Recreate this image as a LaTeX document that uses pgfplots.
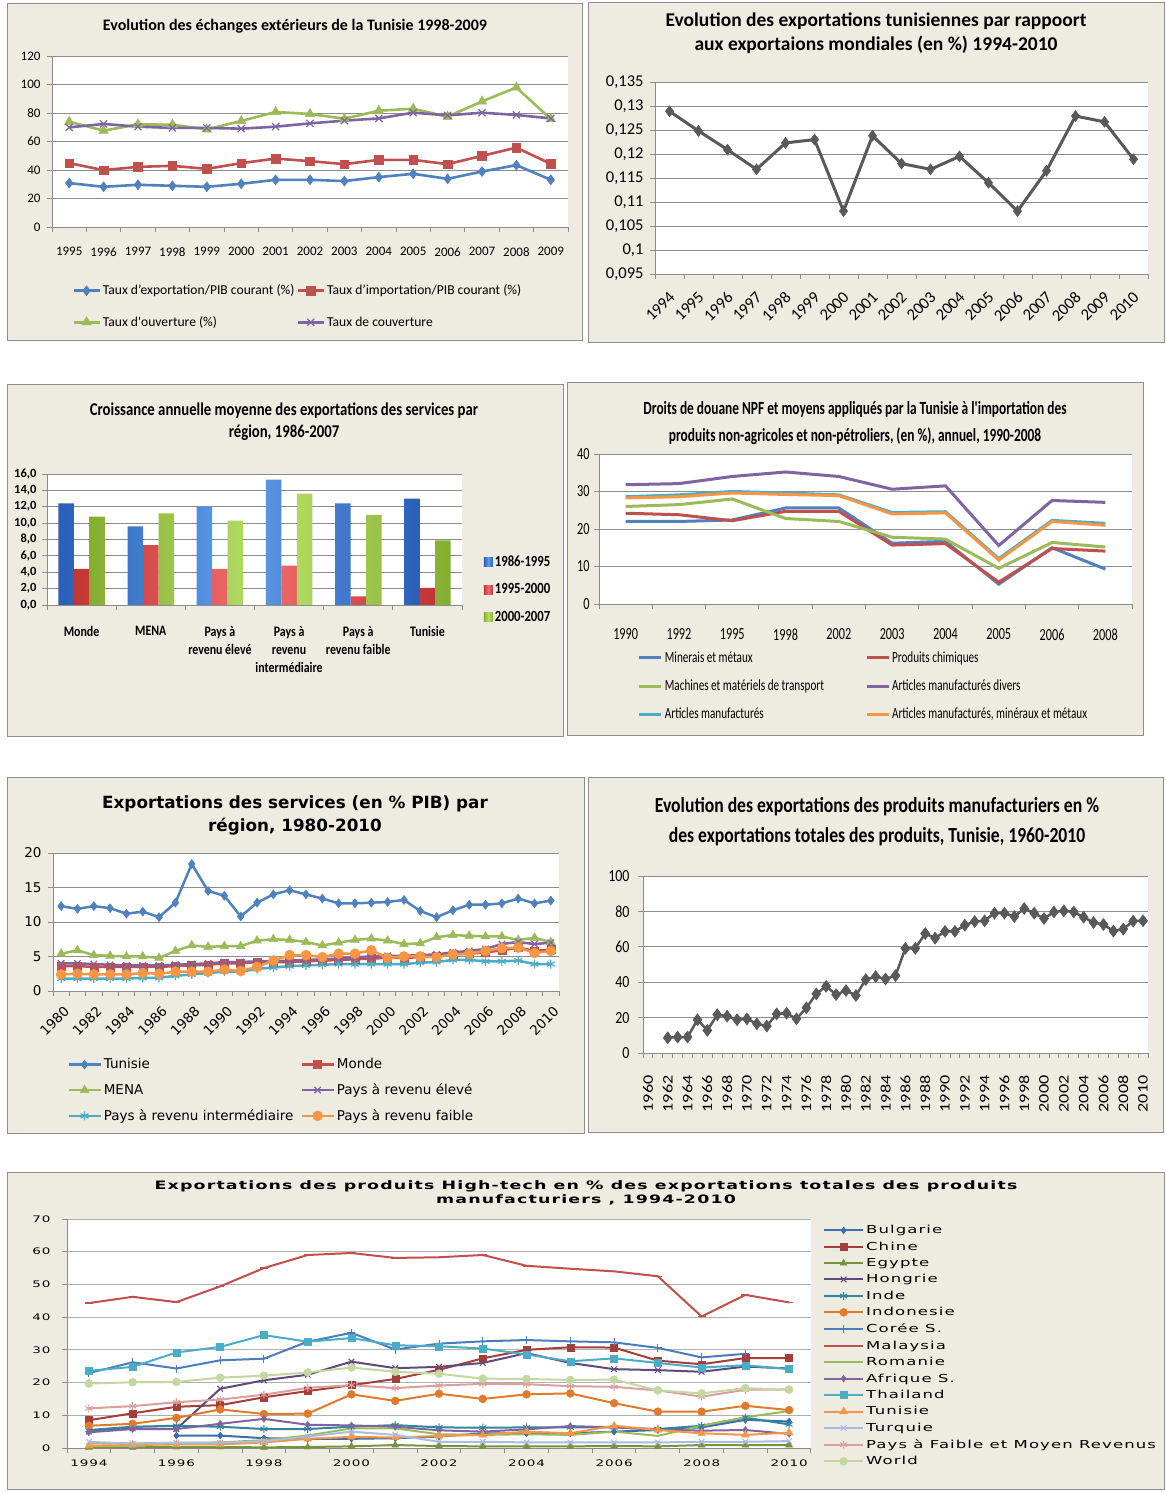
\documentclass[border=0pt]{standalone}
\usepackage{pgfplots}
\pgfplotsset{compat=1.18}
\usepackage{pgfplotstable}
\usepackage{fontspec}
\setmainfont{Carlito}
\newfontfamily\fA{Carlito}
\newfontfamily\fB[FakeStretch=0.72]{Carlito}
\newfontfamily\fC[FakeStretch=0.82]{Carlito}
\newfontfamily\fV[FakeStretch=1.25]{Carlito}
\newfontfamily\fD{DejaVu Sans}
\newfontfamily\fW[FakeStretch=1.5,LetterSpace=10]{DejaVu Sans}

\definecolor{beige}{HTML}{EEECE1}
\definecolor{bord}{HTML}{8E8E8E}
\definecolor{gridc}{HTML}{8C8C8C}
\definecolor{oblue}{HTML}{4F81BD}
\definecolor{ored}{HTML}{C0504D}
\definecolor{ogreen}{HTML}{9BBB59}
\definecolor{opurple}{HTML}{8064A2}
\definecolor{ocyan}{HTML}{4BACC6}
\definecolor{oorange}{HTML}{F79646}
\definecolor{dgray}{HTML}{595959}
\definecolor{c7bul}{HTML}{3D6DAA}
\definecolor{c7chi}{HTML}{A33E3B}
\definecolor{c7egy}{HTML}{77933C}
\definecolor{c7hon}{HTML}{604A7B}
\definecolor{c7ind}{HTML}{31859C}
\definecolor{c7idn}{HTML}{E07B2E}
\definecolor{c7cor}{HTML}{4A7EBB}
\definecolor{c7mal}{HTML}{C0504D}
\definecolor{c7rom}{HTML}{9BBB59}
\definecolor{c7afr}{HTML}{8064A2}
\definecolor{c7tha}{HTML}{4BACC6}
\definecolor{c7tun}{HTML}{F79646}
\definecolor{c7tur}{HTML}{A9BCE2}
\definecolor{c7pfm}{HTML}{D9A09E}
\definecolor{c7wor}{HTML}{C4D7A0}
\definecolor{bb1}{HTML}{2A5FB8}\definecolor{bb2}{HTML}{5E9CEB}
\definecolor{br1}{HTML}{C23535}\definecolor{br2}{HTML}{F26D6D}
\definecolor{bg1}{HTML}{84AE2F}\definecolor{bg2}{HTML}{B8E06A}

\pgfplotstableread{
x exp imp ouv cov
0 30.8 44.8 73.9 69.9
1 28.2 39.9 67.6 72.3
2 29.6 42.2 72.0 70.4
3 28.9 42.9 71.8 69.5
4 28.2 40.8 68.5 69.5
5 30.3 44.8 74.4 69.0
6 33.1 48.0 80.7 70.4
7 33.1 46.2 79.3 72.7
8 32.2 44.1 76.0 74.6
9 35.0 47.1 81.6 76.2
10 37.3 47.1 83.0 80.2
11 33.8 44.1 77.4 78.3
12 38.9 49.9 88.1 80.2
13 43.4 55.7 97.9 78.6
14 33.1 44.3 75.8 76.2
}\tA

\pgfplotstableread{
x v
0 0.1289
1 0.1248
2 0.1209
3 0.1168
4 0.1223
5 0.1230
6 0.1081
7 0.1238
8 0.1180
9 0.1168
10 0.1195
11 0.1140
12 0.1081
13 0.1165
14 0.1279
15 0.1267
16 0.1189
}\tB

\pgfplotstableread{
x a b c
0 12.4 4.4 10.8
1 9.6 7.3 11.2
2 12.0 4.4 10.3
3 15.3 4.8 13.6
4 12.4 1.06 11.0
5 13.0 2.1 7.9
}\tC

\pgfplotstableread{
x mm pc mt amd am amm
0 22.0 24.2 26.0 31.8 28.6 28.3
1 22.0 23.8 26.5 32.1 29.1 28.6
2 22.4 22.2 28.0 34.0 30.0 29.6
3 25.6 24.7 22.8 35.2 29.6 29.2
4 25.6 24.7 22.0 34.0 29.1 28.9
5 16.2 15.7 17.8 30.6 24.4 24.0
6 16.7 16.1 17.3 31.5 24.6 24.3
7 5.3 5.8 9.5 15.6 12.1 11.7
8 15.0 14.8 16.4 27.6 22.3 22.0
9 9.3 14.1 15.2 27.1 21.5 21.0
}\tD

\pgfplotstableread{
x tun mon mena elev inter faib
1980 12.3 3.6 5.4 4.0 1.8 2.4
1981 11.9 3.6 5.9 4.0 1.8 2.5
1982 12.3 3.5 5.2 3.9 1.8 2.4
1983 12.0 3.5 5.1 3.8 1.8 2.4
1984 11.2 3.5 5.0 3.7 1.8 2.4
1985 11.5 3.5 5.0 3.7 1.9 2.6
1986 10.7 3.5 4.8 3.7 1.9 2.5
1987 12.8 3.6 5.8 3.8 2.2 2.8
1988 18.4 3.7 6.6 3.9 2.4 2.8
1989 14.5 3.8 6.4 4.0 2.6 2.8
1990 13.8 4.0 6.5 4.2 2.8 3.1
1991 10.8 4.0 6.5 4.2 2.8 2.9
1992 12.8 4.2 7.3 4.3 3.2 3.5
1993 14.0 4.2 7.5 4.3 3.4 4.4
1994 14.6 4.2 7.4 4.4 3.6 5.2
1995 14.0 4.3 7.1 4.5 3.7 5.2
1996 13.4 4.4 6.6 4.6 3.8 4.9
1997 12.7 4.5 7.0 4.7 3.9 5.4
1998 12.7 4.6 7.4 4.9 3.9 5.4
1999 12.8 4.7 7.6 5.0 3.9 5.9
2000 12.9 4.8 7.3 5.1 3.9 4.8
2001 13.2 4.8 6.8 5.1 3.9 5.0
2002 11.6 4.9 6.9 5.2 4.1 5.0
2003 10.7 5.0 7.8 5.3 4.2 4.9
2004 11.7 5.3 8.1 5.6 4.5 5.3
2005 12.5 5.4 8.0 5.8 4.5 5.4
2006 12.5 5.6 7.9 6.1 4.3 5.8
2007 12.7 5.9 7.9 6.8 4.3 6.2
2008 13.4 6.3 7.4 7.1 4.4 6.3
2009 12.7 5.8 7.7 6.8 3.9 5.5
2010 13.1 6.0 7.1 7.0 3.9 5.8
}\tE

\pgfplotstableread{
x v
1962 8.6
1963 9.0
1964 9.0
1965 18.8
1966 12.8
1967 21.6
1968 20.8
1969 18.8
1970 19.3
1971 16.5
1972 15.2
1973 22.1
1974 22.5
1975 19.3
1976 25.5
1977 33.4
1978 37.7
1979 33.0
1980 35.3
1981 32.5
1982 41.5
1983 43.2
1984 41.8
1985 43.7
1986 59.1
1987 59.1
1988 67.5
1989 64.9
1990 68.7
1991 68.7
1992 72.2
1993 74.3
1994 74.7
1995 79.0
1996 79.0
1997 77.1
1998 81.6
1999 79.0
2000 76.0
2001 79.7
2002 80.3
2003 79.7
2004 76.7
2005 73.7
2006 72.6
2007 68.9
2008 70.0
2009 74.5
2010 74.7
}\tF

\pgfplotstableread{
x bul chi egy hon ind idn cor mal rom afr tha tun tur pfm wor
1994 nan 8.5 0.2 5.0 5.5 6.8 22.9 44.3 1.4 4.8 23.6 0.7 1.9 12.1 19.7
1995 nan 10.6 0.2 6.0 6.5 7.4 26.2 46.2 1.4 5.8 24.8 0.9 1.3 12.8 20.1
1996 3.8 12.6 0.3 5.8 6.8 9.2 24.3 44.6 1.6 5.8 29.2 1.1 1.6 14.0 20.2
1997 3.8 13.1 0.3 18.1 6.5 11.8 26.8 49.4 1.7 7.4 30.9 1.1 1.6 14.8 21.5
1998 3.0 15.5 0.2 20.7 5.8 10.4 27.3 55.0 2.4 8.9 34.5 1.7 2.1 16.3 22.1
1999 2.8 17.4 0.3 22.4 5.8 10.5 32.5 59.0 3.8 7.1 32.5 2.8 3.5 18.4 23.1
2000 2.8 19.2 0.5 26.4 6.5 16.4 35.2 59.6 6.0 6.9 33.6 3.4 5.0 19.2 24.6
2001 3.0 21.1 0.9 24.4 7.0 14.4 30.1 58.1 6.0 6.5 31.4 3.2 4.0 18.3 23.3
2002 3.5 23.9 0.6 24.8 6.3 16.6 31.9 58.3 4.2 5.4 31.1 3.7 1.9 19.1 22.7
2003 4.5 27.4 0.5 26.0 6.2 15.0 32.6 59.0 4.0 5.0 30.4 4.0 1.9 19.6 21.2
2004 4.5 30.0 0.5 29.0 6.3 16.4 33.0 55.7 4.2 5.7 28.6 5.0 1.7 19.5 21.1
2005 4.5 30.8 0.5 26.0 6.3 16.7 32.6 54.8 4.0 6.7 26.5 4.5 1.7 18.9 20.8
2006 5.0 30.7 0.6 24.1 6.3 13.7 32.3 54.0 5.0 6.3 27.4 6.8 1.7 18.7 20.9
2007 5.5 26.7 0.5 23.8 5.8 11.1 30.6 52.5 3.7 5.6 26.0 5.5 1.7 17.6 17.6
2008 6.3 25.6 0.9 23.3 6.8 11.1 27.7 40.2 6.8 5.3 24.6 4.5 1.9 15.7 16.7
2009 8.6 27.5 0.9 24.9 9.3 12.9 28.8 46.8 9.4 5.5 25.3 4.0 1.9 17.8 18.3
2010 8.1 27.5 0.9 24.3 7.2 11.6 nan 44.5 11.3 4.3 24.1 4.7 2.1 17.9 17.8
}\tG

\pgfplotsset{
  xl/.style={
    scale only axis, anchor=south west, clip=false,
    axis background/.style={fill=white},
    axis x line*=bottom, axis y line*=left,
    axis line style={draw=gridc, line width=0.9pt},
    ymajorgrids, major grid style={draw=gridc, line width=0.9pt},
    tick align=outside, major tick length=5pt, minor tick length=5pt,
    major x tick style={draw=none},
    minor x tick style={draw=gridc, line width=0.9pt},
    major y tick style={draw=gridc, line width=0.9pt},
    /pgf/number format/assume math mode=true,
    /pgf/number format/1000 sep={},
    legend cell align=left,
    scaled ticks=false,
    unbounded coords=jump,
  },
  ll26/.style={legend image code/.code={\draw[mark repeat=2,mark phase=2] plot coordinates {(0pt,0pt) (13pt,0pt) (26pt,0pt)};}},
  ll22/.style={legend image code/.code={\draw[mark repeat=2,mark phase=2] plot coordinates {(0pt,0pt) (11pt,0pt) (22pt,0pt)};}},
  ll32/.style={legend image code/.code={\draw[mark repeat=2,mark phase=2] plot coordinates {(0pt,0pt) (16pt,0pt) (32pt,0pt)};}},
  ll39/.style={legend image code/.code={\draw[mark repeat=2,mark phase=2] plot coordinates {(0pt,0pt) (19.5pt,0pt) (39pt,0pt)};}},
}

\begin{document}
\begin{tikzpicture}[x=1pt,y=1pt]
\useasboundingbox (0,0) rectangle (1165,1493);
\fill[white] (0,0) rectangle (1165,1493);
% panels
\filldraw[fill=beige, draw=bord, line width=1pt] (7,1152) rectangle (582,1489);
\filldraw[fill=beige, draw=bord, line width=1pt] (588,1150) rectangle (1164,1490);
\filldraw[fill=beige, draw=bord, line width=1pt] (7,756) rectangle (563,1108);
\filldraw[fill=beige, draw=bord, line width=1pt] (567,757) rectangle (1143,1110);
\filldraw[fill=beige, draw=bord, line width=1pt] (7,359) rectangle (584,715);
\filldraw[fill=beige, draw=bord, line width=1pt] (588,360) rectangle (1163,715);
\filldraw[fill=beige, draw=bord, line width=1pt] (7,3) rectangle (1164,320);
\coordinate (a1) at (52,1266);
\coordinate (a2) at (655,1219);
\coordinate (a3) at (47,888);
\coordinate (a4) at (599,889);
\coordinate (a5) at (53,502);
\coordinate (a6) at (643,440);
\coordinate (a7) at (67,45);

% titles
\node[font=\fA\bfseries\fontsize{16}{19}\selectfont] at (295,1467) {Evolution des échanges extérieurs de la Tunisie 1998-2009};
\node[font=\fA\bfseries\fontsize{19.5}{24}\selectfont, align=center] at (876,1460) {Evolution des exportations tunisiennes par rappoort\\aux exportaions mondiales (en \%) 1994-2010};
\node[font=\fC\bfseries\fontsize{18}{22}\selectfont, align=center] at (284,1071) {Croissance annuelle moyenne des exportations des services par\\région, 1986-2007};
\node[font=\fB\bfseries\fontsize{18.6}{27}\selectfont, align=center] at (855,1070) {Droits de douane NPF et moyens appliqués par la Tunisie à l'importation des\\produits non-agricoles et non-pétroliers, (en \%), annuel, 1990-2008};
\node[font=\fD\bfseries\fontsize{16.8}{23}\selectfont, align=center] at (295,678) {Exportations des services (en \% PIB) par\\région, 1980-2010};
\node[font=\fC\bfseries\fontsize{21.5}{30}\selectfont, align=center] at (877,671) {Evolution des exportations des produits manufacturiers en \%\\des exportations totales des produits, Tunisie, 1960-2010};
\node[font=\fW\bfseries\fontsize{11.6}{14}\selectfont, align=center] at (586,300) {Exportations des produits High-tech en \% des exportations totales des produits\\manufacturiers , 1994-2010};

% ---------- Chart 1
\begin{axis}[xl, at={(a1)}, width=516pt, height=171pt,
  xmin=-0.5, xmax=14.5, ymin=0, ymax=120,
  xtick={0,...,14}, xticklabels={1995,1996,1997,1998,1999,2000,2001,2002,2003,2004,2005,2006,2007,2008,2009},
  minor xtick={-0.5,0.5,...,14.5},
  ytick={0,20,...,120},
  tick label style={font=\fA\fontsize{13}{15}\selectfont},
  xticklabel style={yshift=-12pt},
  yticklabel style={xshift=-3pt},
  ll26,
  legend columns=2,
  legend style={draw=none, fill=none, at={(0.033,-0.315)}, anchor=north west,
    font=\fA\fontsize{13.6}{15}\selectfont, row sep=16pt,
    /tikz/every even column/.append style={column sep=0pt}},
]
\addplot[oblue, line width=2.6pt, mark=diamond*, mark size=5pt, mark options={line width=0.5pt}] table[x=x,y=exp]{\tA};
\addlegendentry{Taux d’exportation/PIB courant (\%)}
\addplot[ored, line width=2.6pt, mark=square*, mark size=4.3pt, mark options={line width=0.5pt}] table[x=x,y=imp]{\tA};
\addlegendentry{Taux d’importation/PIB  courant (\%)}
\addplot[ogreen, line width=2.6pt, mark=triangle*, mark size=5.5pt, mark options={line width=0.5pt}] table[x=x,y=ouv]{\tA};
\addlegendentry{Taux d'ouverture (\%)}
\addplot[opurple, line width=2.6pt, mark=x, mark size=5pt, mark options={line width=1.2pt}] table[x=x,y=cov]{\tA};
\addlegendentry{Taux  de couverture}
\end{axis}

% ---------- Chart 2
\begin{axis}[xl, at={(a2)}, width=493pt, height=192pt,
  xmin=-0.5, xmax=16.5, ymin=0.095, ymax=0.135,
  xtick={0,...,16}, xticklabels={1994,1995,1996,1997,1998,1999,2000,2001,2002,2003,2004,2005,2006,2007,2008,2009,2010},
  minor xtick={-0.5,0.5,...,16.5},
  ytick={0.095,0.1,0.105,0.11,0.115,0.12,0.125,0.13,0.135},
  yticklabels={{0,095},{0,1},{0,105},{0,11},{0,115},{0,12},{0,125},{0,13},{0,135}},
  tick label style={font=\fA\fontsize{16.5}{18}\selectfont},
  xticklabel style={xshift=5pt, yshift=-13pt, rotate=45, anchor=east},
  yticklabel style={xshift=-3pt},
]
\addplot[dgray, line width=3pt, mark=diamond*, mark size=5.5pt, mark options={line width=0.5pt}] table[x=x,y=v]{\tB};
\end{axis}

% ---------- Chart 3
\begin{axis}[xl, at={(a3)}, width=415pt, height=131pt,
  ybar=0pt, bar width=15.5pt,
  xmin=-0.5, xmax=5.5, ymin=0, ymax=16,
  xtick={0,...,5}, xticklabels={Monde,MENA,{Pays à\\revenu élevé},{Pays à\\revenu\\intermédiaire},{Pays à\\revenu faible},Tunisie},
  minor xtick={-0.5,0.5,...,5.5},
  ytick={0,2,...,16},
  yticklabels={{0,0},{2,0},{4,0},{6,0},{8,0},{10,0},{12,0},{14,0},{16,0}},
  yticklabel style={font=\fA\bfseries\fontsize{12.5}{14}\selectfont, xshift=-2pt},
  xticklabel style={font=\fC\bfseries\fontsize{14.5}{18}\selectfont, align=center, yshift=-13pt},
  legend image code/.code={\draw[#1, draw=none] (0pt,-4.5pt) rectangle (9pt,4.5pt);},
  legend style={draw=none, fill=none, at={(1.045,0.41)}, anchor=north west,
    font=\fC\bfseries\fontsize{15.5}{17}\selectfont, row sep=12pt},
]
\addplot[draw=none, left color=bb1, right color=bb1, middle color=bb2] table[x=x,y=a]{\tC};
\addlegendentry{1986-1995}
\addplot[draw=none, left color=br1, right color=br1, middle color=br2] table[x=x,y=b]{\tC};
\addlegendentry{1995-2000}
\addplot[draw=none, left color=bg1, right color=bg1, middle color=bg2] table[x=x,y=c]{\tC};
\addlegendentry{2000-2007}
\end{axis}

% ---------- Chart 4
\begin{axis}[xl, at={(a4)}, width=533pt, height=150pt,
  xmin=-0.5, xmax=9.5, ymin=0, ymax=40,
  xtick={0,...,9}, xticklabels={1990,1992,1995,1998,2002,2003,2004,2005,2006,2008},
  minor xtick={-0.5,0.5,...,9.5},
  ytick={0,10,...,40},
  tick label style={font=\fB\fontsize{17}{19}\selectfont},
  xticklabel style={yshift=-16pt},
  yticklabel style={xshift=-1pt},
  ll22,
  legend columns=2,
  legend style={draw=none, fill=none, at={(0.067,-0.29)}, anchor=north west,
    font=\fB\fontsize{15.5}{17}\selectfont, row sep=12pt,
    /tikz/every even column/.append style={column sep=39pt}},
]
\addplot[oblue, line width=3pt] table[x=x,y=mm]{\tD};
\addlegendentry{Minerais et métaux}
\addplot[ored, line width=3pt] table[x=x,y=pc]{\tD};
\addlegendentry{Produits chimiques}
\addplot[ogreen, line width=3pt] table[x=x,y=mt]{\tD};
\addlegendentry{Machines et matériels de transport}
\addplot[opurple, line width=3pt] table[x=x,y=amd]{\tD};
\addlegendentry{Articles manufacturés divers}
\addplot[ocyan, line width=3pt] table[x=x,y=am]{\tD};
\addlegendentry{Articles manufacturés}
\addplot[oorange, line width=3pt] table[x=x,y=amm]{\tD};
\addlegendentry{Articles manufacturés, minéraux et métaux}
\end{axis}

% ---------- Chart 5
\begin{axis}[xl, at={(a5)}, width=506pt, height=138pt,
  xmin=1979.5, xmax=2010.5, ymin=0, ymax=20,
  xtick={1980,1982,...,2010},
  minor xtick={1979.5,1980.5,...,2010.5},
  ytick={0,5,...,20},
  tick label style={font=\fD\fontsize{13.5}{15}\selectfont},
  xticklabel style={xshift=8pt, yshift=-10pt, rotate=45, anchor=east},
  yticklabel style={xshift=-3pt},
  ll32,
  legend columns=2,
  legend style={draw=none, fill=none, at={(0.022,-0.46)}, anchor=north west,
    font=\fD\fontsize{13.5}{15}\selectfont, row sep=9.5pt,
    /tikz/every even column/.append style={column sep=5pt}},
]
\addplot[oblue, line width=2.5pt, mark=diamond*, mark size=4.5pt, mark options={line width=0.5pt}] table[x=x,y=tun]{\tE};
\addlegendentry{Tunisie}
\addplot[ored, line width=2.5pt, mark=square*, mark size=4pt, mark options={line width=0.5pt}] table[x=x,y=mon]{\tE};
\addlegendentry{Monde}
\addplot[ogreen, line width=2.5pt, mark=triangle*, mark size=5pt, mark options={line width=0.5pt}] table[x=x,y=mena]{\tE};
\addlegendentry{MENA}
\addplot[opurple, line width=2.5pt, mark=x, mark size=4.5pt, mark options={line width=1.2pt}] table[x=x,y=elev]{\tE};
\addlegendentry{Pays à revenu élevé}
\addplot[ocyan, line width=2.5pt, mark=asterisk, mark size=4.5pt, mark options={line width=1.2pt}] table[x=x,y=inter]{\tE};
\addlegendentry{Pays à revenu intermédiaire}
\addplot[oorange, line width=2.5pt, mark=*, mark size=5pt, mark options={line width=0.5pt}] table[x=x,y=faib]{\tE};
\addlegendentry{Pays à revenu faible}
\end{axis}

% ---------- Chart 6
\begin{axis}[xl, at={(a6)}, width=505pt, height=177pt,
  xmin=1959.5, xmax=2010.5, ymin=0, ymax=100,
  xtick={1960,1962,...,2010},
  minor xtick={1959.5,1960.5,...,2010.5},
  ytick={0,20,...,100},
  yticklabel style={font=\fC\fontsize{17}{19}\selectfont, xshift=-5pt},
  xticklabel style={font=\fV\fontsize{14.5}{16}\selectfont, yshift=-14pt, rotate=90, anchor=east},
]
\addplot[dgray, line width=2.5pt, mark=diamond*, mark size=6pt, mark options={line width=0.5pt}] table[x=x,y=v]{\tF};
\end{axis}

% ---------- Chart 7
\begin{axis}[xl, at={(a7)}, width=744pt, height=229pt,
  xmin=1993.5, xmax=2010.5, ymin=0, ymax=70,
  xtick={1994,1996,...,2010},
  minor xtick={1993.5,1994.5,...,2010.5},
  ytick={0,10,...,70},
  major grid style={draw=gridc!70, line width=0.8pt},
  tick label style={font=\fW\fontsize{9}{11}\selectfont},
  xticklabel style={yshift=-3pt},
  yticklabel style={xshift=-8pt},
  ll39,
  legend style={draw=none, fill=none, at={(1.012,0.99)}, anchor=north west,
    font=\fW\fontsize{11}{12}\selectfont, row sep=2.6pt},
]
\addplot[c7bul, line width=2pt, mark=diamond*, mark size=3.5pt, mark options={line width=0.4pt}] table[x=x,y=bul]{\tG};
\addlegendentry{Bulgarie}
\addplot[c7chi, line width=2pt, mark=square*, mark size=3.5pt, mark options={line width=0.4pt}] table[x=x,y=chi]{\tG};
\addlegendentry{Chine}
\addplot[c7egy, line width=2pt, mark=triangle*, mark size=4pt, mark options={line width=0.4pt}] table[x=x,y=egy]{\tG};
\addlegendentry{Egypte}
\addplot[c7hon, line width=2pt, mark=x, mark size=4pt, mark options={line width=1pt}] table[x=x,y=hon]{\tG};
\addlegendentry{Hongrie}
\addplot[c7ind, line width=2pt, mark=asterisk, mark size=4pt, mark options={line width=1pt}] table[x=x,y=ind]{\tG};
\addlegendentry{Inde}
\addplot[c7idn, line width=2pt, mark=*, mark size=4pt, mark options={line width=0.4pt}] table[x=x,y=idn]{\tG};
\addlegendentry{Indonesie}
\addplot[c7cor, line width=2pt, mark=+, mark size=4pt, mark options={line width=1pt}] table[x=x,y=cor]{\tG};
\addlegendentry{Corée S.}
\addplot[c7mal, line width=2pt, mark=-, mark size=4pt, mark options={line width=1.5pt}] table[x=x,y=mal]{\tG};
\addlegendentry{Malaysia}
\addplot[c7rom, line width=2pt] table[x=x,y=rom]{\tG};
\addlegendentry{Romanie}
\addplot[c7afr, line width=2pt, mark=diamond*, mark size=3.5pt, mark options={line width=0.4pt}] table[x=x,y=afr]{\tG};
\addlegendentry{Afrique S.}
\addplot[c7tha, line width=2pt, mark=square*, mark size=3.5pt, mark options={line width=0.4pt}] table[x=x,y=tha]{\tG};
\addlegendentry{Thailand}
\addplot[c7tun, line width=2pt, mark=triangle*, mark size=4.5pt, mark options={line width=0.4pt}] table[x=x,y=tun]{\tG};
\addlegendentry{Tunisie}
\addplot[c7tur, line width=2pt, mark=x, mark size=4pt, mark options={line width=1pt}] table[x=x,y=tur]{\tG};
\addlegendentry{Turquie}
\addplot[c7pfm, line width=2pt, mark=asterisk, mark size=4pt, mark options={line width=1pt}] table[x=x,y=pfm]{\tG};
\addlegendentry{Pays à Faible et Moyen Revenus}
\addplot[c7wor, line width=2pt, mark=*, mark size=4pt, mark options={line width=0.4pt}] table[x=x,y=wor]{\tG};
\addlegendentry{World}
\end{axis}
\end{tikzpicture}
\end{document}
